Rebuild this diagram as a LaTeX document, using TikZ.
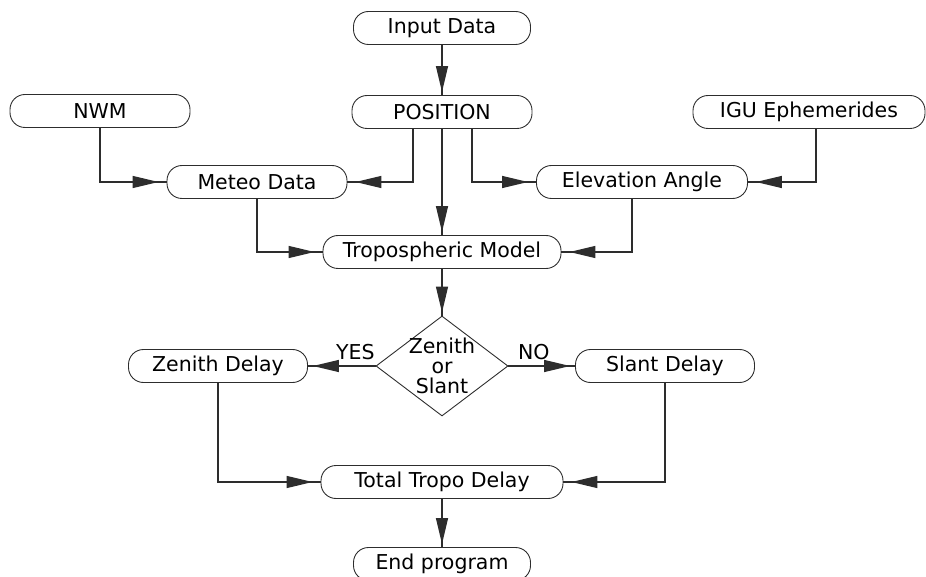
\documentclass[tikz,border=0pt]{standalone}
\usepackage{fontspec}
\setmainfont{DejaVu Sans}
\usetikzlibrary{
    arrows.meta,
    positioning,
    shapes.geometric
}
\definecolor{LineGray}{RGB}{45,45,45}

\begin{document}
\begin{tikzpicture}[
    x=1pt, y=-1pt,
    font=\fontsize{20.5}{20}\selectfont,
    box/.style={draw=LineGray, line width=0.9pt, rounded corners=15pt,
        minimum height=33pt, inner sep=0pt},
    flow/.style={draw=LineGray, line width=1.3pt,
        postaction={draw, -{Triangle[length=26pt,width=12pt]}, shorten >=#1}},
    flow/.default=8pt
]

% Page
\useasboundingbox (0,0) rectangle (926,577);

% Inputs
\node[box, minimum width=177pt] (inp) at (442,28) {Input Data};
\node[box, minimum width=180pt] (pos) at (442,112) {POSITION};
\node[box, minimum width=180pt] (nwm) at (100,111) {NWM};
\node[box, minimum width=232pt] (igu) at (809,112) {IGU Ephemerides};

% Intermediate values
\node[box, minimum width=180pt] (met) at (257,182) {Meteo Data};
\node[box, minimum width=211pt] (ele) at (642,182) {Elevation Angle};
\node[box, minimum width=238pt] (tro) at (442,252) {Tropospheric Model};

% Decision
\node[diamond, draw=LineGray, line width=0.9pt,
    minimum width=132pt, minimum height=100pt, inner sep=0pt,
    label={[align=center]center:{Zenith\\or\\Slant}}]
    (dia) at (442,366) {};

% Delays
\node[box, minimum width=179pt] (zen) at (218,366) {Zenith Delay};
\node[box, minimum width=179pt] (sla) at (665,366) {Slant Delay};
\node[box, minimum width=242pt] (tot) at (442,482) {Total Tropo Delay};
\node[box, minimum width=177pt] (end) at (442,564) {End program};

% Arrows
\draw[flow=3pt] (inp) -- (pos);
\draw[flow] ([xshift=-29pt]pos.south) |- (met);
\draw[flow=3pt] (pos) -- (tro);
\draw[flow] ([xshift=30pt]pos.south) |- (ele);
\draw[flow] (nwm) |- (met);
\draw[flow] ([xshift=7pt]igu.south) |- (ele);
\draw[flow] (met) |- (tro);
\draw[flow] ([xshift=-10pt]ele.south) |- (tro);
\draw[flow=3pt] (tro) -- (dia);
\draw[flow=5pt] (dia) -- node[above, pos=0.3, yshift=2pt] {YES} (zen);
\draw[flow=5pt] (dia) -- node[above, pos=0.38, yshift=2pt] {NO} (sla);
\draw[flow] (zen) |- (tot);
\draw[flow] (sla) |- (tot);
\draw[flow=3pt] (tot) -- (end);

\end{tikzpicture}
\end{document}
